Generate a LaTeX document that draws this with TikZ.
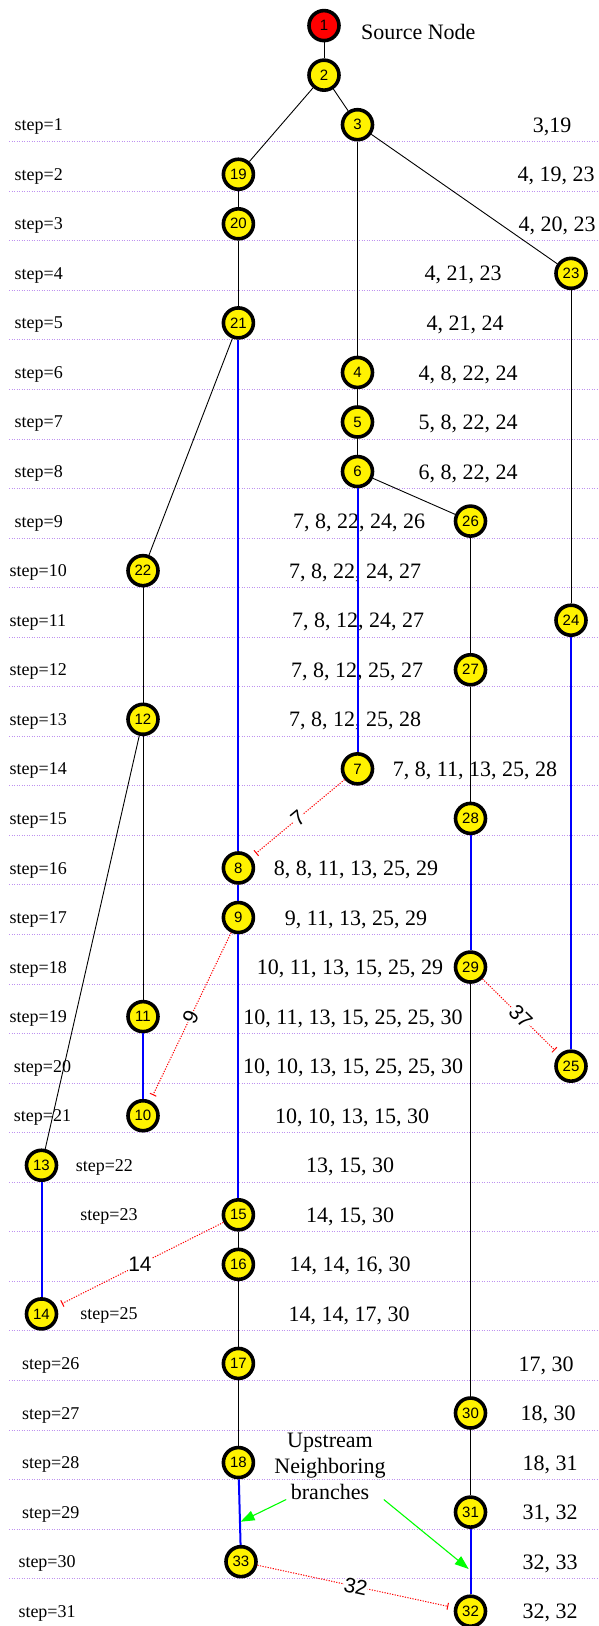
\documentclass[tikz,border=0pt]{standalone}
\usepackage{fontspec}
\setmainfont{Liberation Serif}
\setsansfont{Liberation Sans}
\usetikzlibrary{arrows.meta}

\definecolor{gridpurple}{RGB}{190,145,240}

\newcommand*{\rowsep}{49.55}
\newcommand*{\firstline}{141.7}
\newcommand*{\ny}[1]{\firstline+(#1-1)*\rowsep-17}
\newcommand*{\ty}[1]{\firstline+(#1-1)*\rowsep-15}
\newcommand*{\colA}{41.5}
\newcommand*{\colB}{143}
\newcommand*{\colC}{238.4}
\newcommand*{\colD}{357.5}
\newcommand*{\colE}{470.5}
\newcommand*{\colF}{571}
\newcommand*{\colS}{324}

\begin{document}
\begin{tikzpicture}
[
	x=1pt,
	y=-1pt,
	vertex/.style={circle,draw,line width=3.6pt,fill=yellow,inner sep=0pt,minimum size=30pt,font=\sffamily\fontsize{15}{15}\selectfont},
	source/.style={vertex,fill=red},
	treeedge/.style={black,line width=0.9pt},
	pathedge/.style={blue,line width=2pt},
	linkedge/.style={red,dash pattern=on 1.2pt off 1.4pt,line width=1pt,-{Bar[width=7pt,line width=1pt]},shorten >=6pt},
	linklabel/.style={text=black,font=\sffamily\fontsize{21}{21}\selectfont,fill=white,inner sep=0.5pt},
	gridline/.style={draw=gridpurple,dash pattern=on 1.2pt off 1.3pt,line width=1pt},
	steplabel/.style={anchor=west,font=\fontsize{18}{18}\selectfont,inner sep=0pt},
	queuelabel/.style={font=\fontsize{22}{22}\selectfont,inner sep=0pt},
	note/.style={align=center,font=\fontsize{22}{26}\selectfont,inner sep=0pt},
	pointer/.style={green,line width=1.1pt,-{Triangle[length=14pt,width=10pt]}}
]

	\useasboundingbox (0,0) rectangle (599,1626);

	% step grid
	\foreach \k in {1,...,30}
		\draw[gridline] (9,{\firstline+(\k-1)*\rowsep}) -- (599,{\firstline+(\k-1)*\rowsep});

	% step labels
	\foreach \k/\x in {1/14.5,2/14.5,3/14.5,4/14.5,5/14.5,6/14.5,7/14.5,8/14.5,9/14.5,
		10/9.5,11/9.5,12/9.5,13/9.5,14/9.5,15/9.5,16/9.5,17/9.5,18/9.5,19/9.5,
		20/13.7,21/13.7,22/75.6,23/80.2,25/80.2,26/22,27/22,28/22,29/22,30/18.3,31/18.3}
		\node[steplabel] (s\k) at (\x,{\ty{\k}}) {step=\k};

	% queue contents
	\foreach \k/\x/\txt in {1/552/{3,19}, 2/556/{4, 19, 23}, 3/557/{4, 20, 23},
		4/463/{4, 21, 23}, 5/465/{4, 21, 24}, 6/468/{4, 8, 22, 24},
		7/468/{5, 8, 22, 24}, 8/468/{6, 8, 22, 24}, 9/359/{7, 8, 22, 24, 26},
		10/355/{7, 8, 22, 24, 27}, 11/358/{7, 8, 12, 24, 27}, 12/357/{7, 8, 12, 25, 27},
		13/355/{7, 8, 12, 25, 28}, 14/475/{7, 8, 11, 13, 25, 28},
		16/356/{8, 8, 11, 13, 25, 29}, 17/356/{9, 11, 13, 25, 29},
		18/350/{10, 11, 13, 15, 25, 29}, 19/353/{10, 11, 13, 15, 25, 25, 30},
		20/353/{10, 10, 13, 15, 25, 25, 30}, 21/352/{10, 10, 13, 15, 30},
		22/350/{13, 15, 30}, 23/350/{14, 15, 30}, 24/350/{14, 14, 16, 30},
		25/349/{14, 14, 17, 30}, 26/546/{17, 30}, 27/548/{18, 30},
		28/550/{18, 31}, 29/550/{31, 32}, 30/550/{32, 33}, 31/550/{32, 32}}
		\node[queuelabel] (q\k) at (\x,{\ty{\k}}) {\txt};

	% vertices
	\node[source] (n1) at (\colS,{\ny{-1}}) {1};
	\node[anchor=west,font=\fontsize{22}{22}\selectfont,inner sep=0pt] (srclabel) at (361,32) {Source Node};
	\node[vertex] (n2) at (\colS,{\ny{0}}) {2};
	\node[vertex] (n3) at (\colD,{\ny{1}}) {3};
	\node[vertex] (n19) at (\colC,{\ny{2}}) {19};
	\node[vertex] (n20) at (\colC,{\ny{3}}) {20};
	\node[vertex] (n23) at (\colF,{\ny{4}}) {23};
	\node[vertex] (n21) at (\colC,{\ny{5}}) {21};
	\node[vertex] (n4) at (\colD,{\ny{6}}) {4};
	\node[vertex] (n5) at (\colD,{\ny{7}}) {5};
	\node[vertex] (n6) at (\colD,{\ny{8}}) {6};
	\node[vertex] (n26) at (\colE,{\ny{9}}) {26};
	\node[vertex] (n22) at (\colB,{\ny{10}}) {22};
	\node[vertex] (n24) at (\colF,{\ny{11}}) {24};
	\node[vertex] (n27) at (\colE,{\ny{12}}) {27};
	\node[vertex] (n12) at (\colB,{\ny{13}}) {12};
	\node[vertex] (n7) at (\colD,{\ny{14}}) {7};
	\node[vertex] (n28) at (\colE,{\ny{15}}) {28};
	\node[vertex] (n8) at (\colC,{\ny{16}}) {8};
	\node[vertex] (n9) at (\colC,{\ny{17}}) {9};
	\node[vertex] (n29) at (\colE,{\ny{18}}) {29};
	\node[vertex] (n11) at (\colB,{\ny{19}}) {11};
	\node[vertex] (n25) at (\colF,{\ny{20}}) {25};
	\node[vertex] (n10) at (\colB,{\ny{21}}) {10};
	\node[vertex] (n13) at (\colA,{\ny{22}}) {13};
	\node[vertex] (n15) at (\colC,{\ny{23}}) {15};
	\node[vertex] (n16) at (\colC,{\ny{24}}) {16};
	\node[vertex] (n14) at (\colA,{\ny{25}}) {14};
	\node[vertex] (n17) at (\colC,{\ny{26}}) {17};
	\node[vertex] (n30) at (\colE,{\ny{27}}) {30};
	\node[vertex] (n18) at (\colC,{\ny{28}}) {18};
	\node[vertex] (n31) at (\colE,{\ny{29}}) {31};
	\node[vertex] (n33) at (241,{\ny{30}}) {33};
	\node[vertex] (n32) at (\colE,{\ny{31}}) {32};

	% tree edges
	\foreach \a/\b in {1/2,2/19,2/3,3/4,3/23,19/20,20/21,21/22,4/5,5/6,6/26,22/12,
		12/13,12/11,26/27,27/28,23/24,29/30,30/31,15/16,16/17,17/18}
		\draw[treeedge] (n\a) -- (n\b);

	% search paths
	\foreach \a/\b in {21/8,6/7,24/25,28/29,8/9,9/15,11/10,13/14,18/33,31/32}
		\draw[pathedge] (n\a) -- (n\b);

	% links between branches
	\draw[linkedge] (n7) -- node[linklabel,sloped] (l7) {7} (n8);
	\draw[linkedge] (n9) -- node[linklabel,sloped] (l9) {9} (n10);
	\draw[linkedge] (n29) -- node[linklabel,sloped] (l37) {37} (n25);
	\draw[linkedge] (n15) -- node[linklabel] (l14) {14} (n14);
	\draw[linkedge] (n33) -- node[linklabel,sloped] (l32) {32} (n32);

	% annotation
	\node[note] (note) at (330,1466) {Upstream\\Neighboring\\branches};
	\coordinate (tipL) at (240.6,1521.7);
	\coordinate (tipR) at (468.7,1569);
	\draw[pointer] ([xshift=12pt]note.south west) -- (tipL);
	\draw[pointer] ([xshift=-2pt]note.south east) -- (tipR);

\end{tikzpicture}
\end{document}
